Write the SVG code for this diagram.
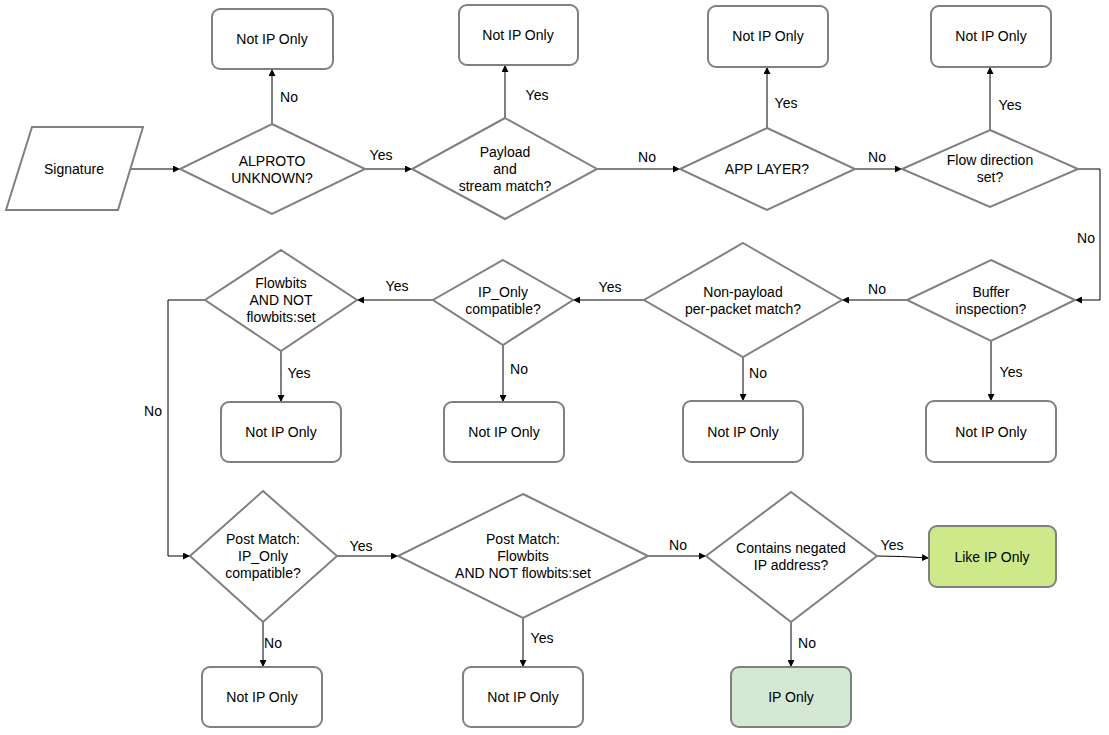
<svg xmlns="http://www.w3.org/2000/svg" width="1109" height="735" viewBox="0 0 1109 735">
<style>
.s{fill:#fff;stroke:#808080;stroke-width:2}
.t{font-family:"Liberation Sans",Arial,sans-serif;font-size:14px;fill:#000;text-anchor:middle}
.c{fill:none;stroke:#000;stroke-width:1;marker-end:url(#a)}
</style>
<defs><marker id="a" viewBox="0 0 10 10" refX="10" refY="5" markerWidth="7" markerHeight="7" orient="auto" markerUnits="userSpaceOnUse"><path d="M0,0L10,5L0,10z" fill="#000"/></marker></defs>
<g id="connectors">
<path class="c" d="M130,169H180"/>
<path class="c" d="M272,124V69"/><text class="t" x="289" y="102">No</text>
<path class="c" d="M365,169H412"/><text class="t" x="381" y="160">Yes</text>
<path class="c" d="M505,118V65"/><text class="t" x="537" y="100">Yes</text>
<path class="c" d="M597,169H680"/><text class="t" x="647" y="162">No</text>
<path class="c" d="M767,128V67"/><text class="t" x="786" y="108">Yes</text>
<path class="c" d="M855,169H902"/><text class="t" x="877" y="162">No</text>
<path class="c" d="M990,130V67"/><text class="t" x="1010" y="110">Yes</text>
<path class="c" d="M1078,169H1100V300H1075"/><text class="t" x="1086" y="243">No</text>
<path class="c" d="M991,341V401"/><text class="t" x="1011" y="377">Yes</text>
<path class="c" d="M907,300H842"/><text class="t" x="877" y="294">No</text>
<path class="c" d="M743,357V401"/><text class="t" x="758" y="378">No</text>
<path class="c" d="M644,300H573"/><text class="t" x="610" y="292">Yes</text>
<path class="c" d="M503,345V402"/><text class="t" x="519" y="374">No</text>
<path class="c" d="M433,300H357"/><text class="t" x="397" y="291">Yes</text>
<path class="c" d="M281,351V402"/><text class="t" x="299" y="378">Yes</text>
<path class="c" d="M205,300H168V556H190"/><text class="t" x="153" y="416">No</text>
<path class="c" d="M263,622V667"/><text class="t" x="273" y="648">No</text>
<path class="c" d="M337,556H398"/><text class="t" x="361" y="551">Yes</text>
<path class="c" d="M523,618V667"/><text class="t" x="542" y="643">Yes</text>
<path class="c" d="M648,556H706"/><text class="t" x="678" y="550">No</text>
<path class="c" d="M791,622V667"/><text class="t" x="807" y="648">No</text>
<path class="c" d="M877,556Q900,556 929,558"/><text class="t" x="892" y="550">Yes</text>
</g>
<g id="signature"><path class="s" d="M32,127H143L118,210H6Z"/><text class="t" x="74" y="174">Signature</text></g>
<g id="d1"><path class="s" d="M272,124L365,169L272,214L180,169Z"/><text class="t" x="272" y="166">ALPROTO</text><text class="t" x="272" y="183">UNKNOWN?</text></g>
<g id="d2"><path class="s" d="M505,118L597,169L505,219L412,169Z"/><text class="t" x="505" y="157">Payload</text><text class="t" x="505" y="174">and</text><text class="t" x="505" y="191">stream match?</text></g>
<g id="d3"><path class="s" d="M767,128L855,169L767,210L680,169Z"/><text class="t" x="767" y="174">APP LAYER?</text></g>
<g id="d4"><path class="s" d="M990,130L1078,169L990,207L902,169Z"/><text class="t" x="990" y="165">Flow direction</text><text class="t" x="990" y="182">set?</text></g>
<g id="n1"><rect class="s" x="212" y="9" width="121" height="60" rx="8"/><text class="t" x="272" y="44">Not IP Only</text></g>
<g id="n2"><rect class="s" x="459" y="5" width="119" height="60" rx="8"/><text class="t" x="518" y="40">Not IP Only</text></g>
<g id="n3"><rect class="s" x="708" y="6" width="120" height="61" rx="8"/><text class="t" x="768" y="41">Not IP Only</text></g>
<g id="n4"><rect class="s" x="931" y="6" width="120" height="61" rx="8"/><text class="t" x="991" y="41">Not IP Only</text></g>
<g id="d5"><path class="s" d="M991,260L1075,300L991,341L907,300Z"/><text class="t" x="991" y="297">Buffer</text><text class="t" x="991" y="314">inspection?</text></g>
<g id="d6"><path class="s" d="M743,243L842,300L743,357L644,300Z"/><text class="t" x="743" y="297">Non-payload</text><text class="t" x="743" y="314">per-packet match?</text></g>
<g id="d7"><path class="s" d="M503,260L573,300L503,345L433,300Z"/><text class="t" x="503" y="297">IP_Only</text><text class="t" x="503" y="314">compatible?</text></g>
<g id="d8"><path class="s" d="M281,250L357,300L281,351L205,300Z"/><text class="t" x="281" y="288">Flowbits</text><text class="t" x="281" y="305">AND NOT</text><text class="t" x="281" y="322">flowbits:set</text></g>
<g id="n5"><rect class="s" x="221" y="402" width="120" height="60" rx="8"/><text class="t" x="281" y="437">Not IP Only</text></g>
<g id="n6"><rect class="s" x="444" y="402" width="120" height="60" rx="8"/><text class="t" x="504" y="437">Not IP Only</text></g>
<g id="n7"><rect class="s" x="683" y="401" width="120" height="61" rx="8"/><text class="t" x="743" y="437">Not IP Only</text></g>
<g id="n8"><rect class="s" x="926" y="401" width="130" height="61" rx="8"/><text class="t" x="991" y="437">Not IP Only</text></g>
<g id="d9"><path class="s" d="M263,491L337,556L263,622L190,556Z"/><text class="t" x="263" y="544">Post Match:</text><text class="t" x="263" y="561">IP_Only</text><text class="t" x="263" y="578">compatible?</text></g>
<g id="d10"><path class="s" d="M523,494L648,556L523,618L398,556Z"/><text class="t" x="523" y="544">Post Match:</text><text class="t" x="523" y="561">Flowbits</text><text class="t" x="523" y="578">AND NOT flowbits:set</text></g>
<g id="d11"><path class="s" d="M791,492L877,556L791,622L706,556Z"/><text class="t" x="791" y="553">Contains negated</text><text class="t" x="791" y="570">IP address?</text></g>
<g id="n9"><rect class="s" x="202" y="667" width="120" height="60" rx="8"/><text class="t" x="262" y="702">Not IP Only</text></g>
<g id="n10"><rect class="s" x="463" y="667" width="120" height="60" rx="8"/><text class="t" x="523" y="702">Not IP Only</text></g>
<g id="n11"><rect class="s" x="731" y="667" width="120" height="60" rx="8" style="fill:#d5e8d4"/><text class="t" x="791" y="702">IP Only</text></g>
<g id="n12"><rect class="s" x="929" y="526" width="127" height="61" rx="8" style="fill:#cde98a"/><text class="t" x="992" y="562">Like IP Only</text></g>
</svg>
